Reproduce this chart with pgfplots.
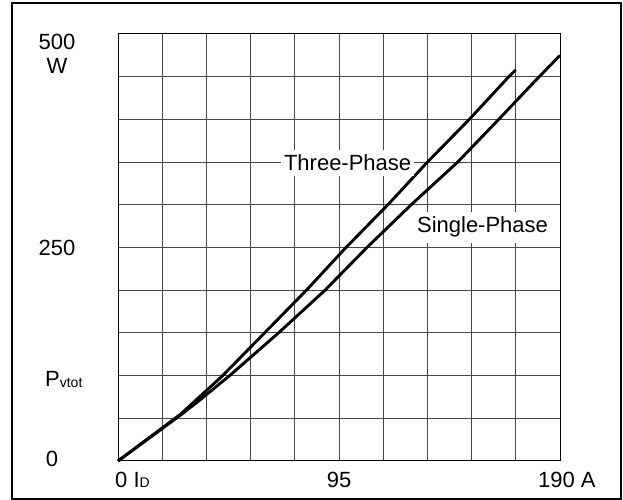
\documentclass[border=0pt]{standalone}
\usepackage{fontspec}
\setmainfont{Liberation Sans}
\usepackage{pgfplots}
\pgfplotsset{compat=1.18}
\tikzset{lbl/.style={font=\fontsize{22}{26}\selectfont}}

\begin{document}
\begin{tikzpicture}[x=1pt,y=1pt]
% page size and outer frame
\path (0,0) rectangle (623,500);
\draw[line width=1.8pt] (12,1) rectangle (621,497);

\begin{axis}[
    at={(118pt,39pt)}, anchor=south west,
    scale only axis,
    width=442pt, height=427pt,
    xmin=0, xmax=190,
    ymin=0, ymax=500,
    xtick={0,19,...,190},
    ytick={0,50,...,500},
    xticklabels={}, yticklabels={},
    major tick length=0pt,
    grid=major,
    grid style={line width=1pt, color=black!72},
    axis line style={line width=1pt},
    clip=false,
]

% Three-Phase
\addplot[black, line width=2.9pt, line join=round, mark=none] coordinates {
    (0,0)(27,55)(45,100)(63,150)(81,200)(98,250)(116,300)(133,350)(151,400)(168,450)(171,458)
};
% Single-Phase
\addplot[black, line width=2.9pt, line join=round, mark=none] coordinates {
    (0,0)(27,54)(35,71)(48,100)(69,150)(89,200)(107,250)(126,300)(146,350)(164,401)(180,447)(190,475)
};

\node[lbl, anchor=base, fill=white, inner xsep=3pt, inner ysep=5pt] at (axis cs:98.7,339.6) {Three-Phase};
\node[lbl, anchor=base, fill=white, inner xsep=3pt, inner ysep=5pt] at (axis cs:156.7,267) {Single-Phase};

% y labels
\node[lbl, anchor=base] at (axis cs:-26.2,482.4) {500};
\node[lbl, anchor=base] at (axis cs:-26.2,453.2) {W};
\node[lbl, anchor=base] at (axis cs:-26.2,241.2) {250};
\node[lbl, anchor=base west, inner sep=0pt] at (axis cs:-31.4,86.7) {P{\fontsize{14}{14}\selectfont\raisebox{-1pt}{vtot}}};
\node[lbl, anchor=base] at (axis cs:-28.4,-7) {0};

% x labels
\node[lbl, anchor=base west, inner sep=0pt] at (axis cs:-1.3,-31.6) {0 I{\fontsize{14}{14}\selectfont D}};
\node[lbl, anchor=base] at (axis cs:95,-31.6) {95};
\node[lbl, anchor=base west, inner sep=0pt] at (axis cs:180.5,-31.6) {190 A};
\end{axis}
\end{tikzpicture}
\end{document}
